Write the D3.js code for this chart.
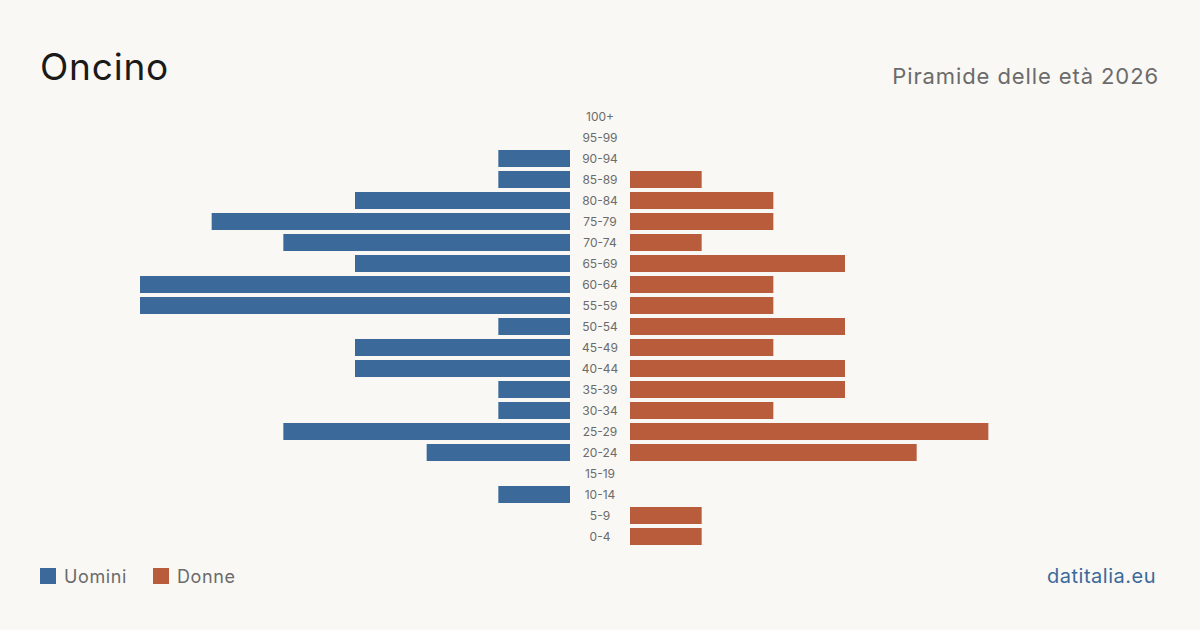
<!DOCTYPE html>
<html>
<head>
<meta charset="utf-8">
<script src="https://cdn.jsdelivr.net/npm/d3@7"></script>
<style>
  body { margin: 0; background: #f9f8f4; }
  svg { display: block; font-family: Inter, "Noto Sans", sans-serif; }
</style>
</head>
<body>
<div id="chart-area"></div>
<script>
// Age groups, top to bottom
const ageGroups = ["100+", "95-99", "90-94", "85-89", "80-84", "75-79", "70-74", "65-69", "60-64",
    "55-59", "50-54", "45-49", "40-44", "35-39", "30-34", "25-29", "20-24", "15-19", "10-14", "5-9", "0-4"];
const men   = [0, 0, 1, 1, 3, 5, 4, 3, 6, 6, 1, 3, 3, 1, 1, 4, 2, 0, 1, 0, 0];
const women = [0, 0, 0, 1, 2, 2, 1, 3, 2, 2, 3, 2, 3, 3, 2, 5, 4, 0, 0, 1, 1];
const legendLabels = ["Uomini", "Donne"];

const width = 1200, height = 630;
const blue = "#3b6a9a", orange = "#b95c3c";

const svg = d3.select("#chart-area").append("svg")
    .attr("width", width)
    .attr("height", height);

svg.append("rect").attr("width", width).attr("height", height).attr("fill", "#f9f8f4");

// Titles
svg.append("text")
    .attr("x", 40).attr("y", 80)
    .attr("font-size", 37)
    .attr("letter-spacing", 0.8)
    .attr("fill", "#1a1a1a")
    .text("Oncino");

svg.append("text")
    .attr("x", 1159).attr("y", 84)
    .attr("text-anchor", "end")
    .attr("font-size", 22)
    .attr("letter-spacing", 0.9)
    .attr("fill", "#6b6b6b")
    .text("Piramide delle età 2026");

// Scales
const maxVal = d3.max(men.concat(women));
const y = d3.scaleBand()
    .domain(ageGroups)
    .range([106, 547])
    .paddingInner(0.19)
    .paddingOuter(0.095);

const xLeft = d3.scaleLinear().domain([0, maxVal]).range([570, 140]);
const xRight = d3.scaleLinear().domain([0, maxVal]).range([630, 1060]);

// Men bars
svg.append("g").selectAll("rect")
    .data(ageGroups)
    .enter().append("rect")
    .attr("x", (d, i) => xLeft(men[i]))
    .attr("y", d => y(d))
    .attr("width", (d, i) => xLeft(0) - xLeft(men[i]))
    .attr("height", y.bandwidth())
    .attr("fill", blue);

// Women bars
svg.append("g").selectAll("rect")
    .data(ageGroups)
    .enter().append("rect")
    .attr("x", xRight(0))
    .attr("y", d => y(d))
    .attr("width", (d, i) => xRight(women[i]) - xRight(0))
    .attr("height", y.bandwidth())
    .attr("fill", orange);

// Age labels
svg.append("g").selectAll("text")
    .data(ageGroups)
    .enter().append("text")
    .attr("x", 600)
    .attr("y", d => y(d) + y.bandwidth() / 2)
    .attr("dy", "0.35em")
    .attr("text-anchor", "middle")
    .attr("font-size", 12)
    .attr("fill", "#6b6b6b")
    .text(d => d);

// Legend
const legend = svg.append("g");
const legendX = [40, 153];
legendLabels.forEach((lab, i) => {
    legend.append("rect")
        .attr("x", legendX[i]).attr("y", 568)
        .attr("width", 16).attr("height", 16)
        .attr("fill", i === 0 ? blue : orange);
    legend.append("text")
        .attr("x", legendX[i] + 24).attr("y", 583)
        .attr("font-size", 18)
        .attr("letter-spacing", 0.6)
        .attr("fill", "#6b6b6b")
        .text(lab);
});

svg.append("text")
    .attr("x", 1156).attr("y", 583)
    .attr("text-anchor", "end")
    .attr("font-size", 20)
    .attr("letter-spacing", 0.5)
    .attr("fill", blue)
    .text("datitalia.eu");
</script>
</body>
</html>
